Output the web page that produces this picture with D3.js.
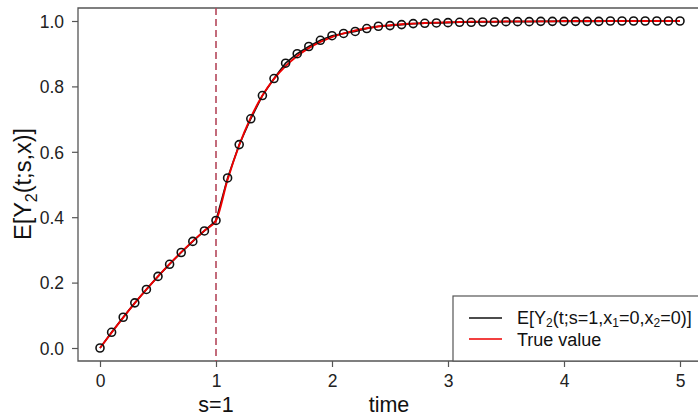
<!DOCTYPE html>
<html><head><meta charset="utf-8">
<script src="https://cdn.jsdelivr.net/npm/d3@7"></script>
<style>body{margin:0;background:#fff}svg{display:block;font-family:"Liberation Sans",Arial,sans-serif}</style>
</head><body>
<svg id="c" width="698" height="418"></svg>
<script>
const times = d3.range(0, 51).map(i => +(i * 0.1).toFixed(1));
const estimated = [0.000,0.048,0.094,0.138,0.179,0.219,0.256,0.292,0.326,0.358,0.390,
  0.520,0.622,0.701,0.772,0.824,0.871,0.900,0.922,0.941,0.955,
  0.962,0.968,0.977,0.984,0.986,0.989,0.992,0.993,0.994,0.995,
  0.996,0.996,0.997,0.997,0.998,0.998,0.998,0.999,0.999,0.999,
  0.999,0.999,0.999,1.000,1.000,1.000,1.000,1.000,1.000,1.000];
const trueValue = [0.000,0.047,0.093,0.137,0.179,0.219,0.257,0.293,0.327,0.359,0.390,
  0.515,0.620,0.705,0.772,0.823,0.862,0.893,0.917,0.936,0.951,
  0.962,0.971,0.978,0.983,0.987,0.990,0.992,0.994,0.995,0.996,
  0.997,0.998,0.998,0.998,0.999,0.999,0.999,0.999,0.999,1.000,
  1.000,1.000,1.000,1.000,1.000,1.000,1.000,1.000,1.000,1.000];
const xTicks = [0,1,2,3,4,5];
const yTicks = [0.0,0.2,0.4,0.6,0.8,1.0];
const sValue = 1;

const svg = d3.select("#c");
const x = d3.scaleLinear().domain([0,5]).range([100,680]);
const y = d3.scaleLinear().domain([0,1]).range([348,21]);
const box = {l:78, t:8, r:702, b:361};

// box
svg.append("path").attr("d",`M${box.r},${box.t}H${box.l}V${box.b}H${box.r}`)
  .attr("fill","none").attr("stroke","#555").attr("stroke-width",1.3);

// axes
const ax = svg.append("g").attr("transform",`translate(0,${box.b})`)
  .call(d3.axisBottom(x).tickValues(xTicks).tickFormat(d3.format("d")).tickSize(6).tickSizeOuter(0));
ax.select(".domain").remove();
const ay = svg.append("g").attr("transform",`translate(${box.l},0)`)
  .call(d3.axisLeft(y).tickValues(yTicks).tickFormat(d3.format(".1f")).tickSize(6).tickSizeOuter(0));
ay.select(".domain").remove();
[ax, ay].forEach(a => {
  a.selectAll("line").attr("stroke","#555").attr("stroke-width",1.2);
  a.selectAll("text").attr("font-size",17.5).attr("fill","#222").attr("font-family","Liberation Sans, Arial, sans-serif");
});
ax.selectAll("text").attr("dy",0).attr("y",26);
ay.selectAll("text").attr("x",-14).attr("dy","0.36em");

// dashed vertical
svg.append("line").attr("x1",x(sValue)).attr("x2",x(sValue)).attr("y1",box.t).attr("y2",box.b)
  .attr("stroke","#b5475a").attr("stroke-width",1.6).attr("stroke-dasharray","7,4");

const pts = times.map((t,i)=>({t, e:estimated[i], v:trueValue[i]}));
svg.append("path").datum(pts).attr("fill","none").attr("stroke","#111").attr("stroke-width",1.6)
  .attr("d", d3.line().x(d=>x(d.t)).y(d=>y(d.e)));
svg.append("path").datum(pts).attr("fill","none").attr("stroke","#ee0000").attr("stroke-width",1.9)
  .attr("d", d3.line().curve(d3.curveMonotoneX).x(d=>x(d.t)).y(d=>y(d.v)));
svg.append("g").selectAll("circle").data(pts).join("circle")
  .attr("cx",d=>x(d.t)).attr("cy",d=>y(d.e)).attr("r",4)
  .attr("fill","none").attr("stroke","#111").attr("stroke-width",1.6);

// labels
svg.append("text").attr("x",x(sValue)).attr("y",412).attr("text-anchor","middle")
  .attr("font-size",21.5).attr("fill","#111").text("s=" + sValue);
svg.append("text").attr("x",389).attr("y",412).attr("text-anchor","middle")
  .attr("font-size",21.5).attr("fill","#111").text("time");
const yl = svg.append("text").attr("transform","translate(31,184) rotate(-90)")
  .attr("text-anchor","middle").attr("font-size",23.5).attr("fill","#111");
yl.append("tspan").text("E[Y");
yl.append("tspan").attr("font-size",16).attr("dy",6).text("2");
yl.append("tspan").attr("dy",-6).text("(t;s,x)]");

// legend
const lg = svg.append("g");
lg.append("rect").attr("x",453).attr("y",296).attr("width",260).attr("height",65)
  .attr("fill","#fff").attr("stroke","#555").attr("stroke-width",1.2);
lg.append("line").attr("x1",469).attr("x2",502).attr("y1",318).attr("y2",318).attr("stroke","#111").attr("stroke-width",1.6);
lg.append("line").attr("x1",469).attr("x2",502).attr("y1",339).attr("y2",339).attr("stroke","#ee0000").attr("stroke-width",1.6);
const t1 = lg.append("text").attr("x",517).attr("y",323.5).attr("font-size",18).attr("fill","#111");
t1.append("tspan").text("E[Y");
t1.append("tspan").attr("font-size",12).attr("dy",3.5).text("2");
t1.append("tspan").attr("dy",-3.5).text("(t;s=1,x");
t1.append("tspan").attr("font-size",12).attr("dy",3.5).text("1");
t1.append("tspan").attr("dy",-3.5).text("=0,x");
t1.append("tspan").attr("font-size",12).attr("dy",3.5).text("2");
t1.append("tspan").attr("dy",-3.5).text("=0)]");
lg.append("text").attr("x",517).attr("y",345.5).attr("font-size",18).attr("fill","#111").text("True value");
</script>
</body></html>
